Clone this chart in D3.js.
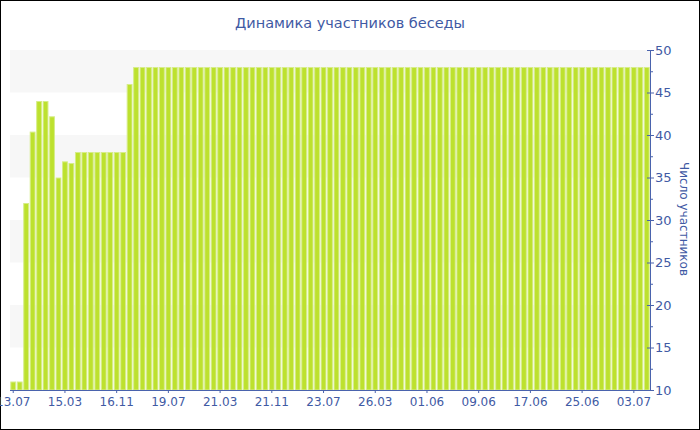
<!DOCTYPE html>
<html>
<head>
<meta charset="utf-8">
<script src="https://cdn.jsdelivr.net/npm/d3@7"></script>
<style>
  html, body { margin: 0; padding: 0; background: #fff; }
  svg { display: block; }
  text { font-family: "DejaVu Sans", Verdana, sans-serif; }
</style>
</head>
<body>
<script>
const title = "Динамика участников беседы";
const yTitle = "Число участников";
const values = [11, 11, 32, 40.4, 44, 44, 42.2, 35, 36.9, 36.7,
  38, 38, 38, 38, 38, 38, 38, 38, 46,
  48, 48, 48, 48, 48, 48, 48, 48, 48, 48,
  48, 48, 48, 48, 48, 48, 48, 48, 48, 48,
  48, 48, 48, 48, 48, 48, 48, 48, 48, 48,
  48, 48, 48, 48, 48, 48, 48, 48, 48, 48,
  48, 48, 48, 48, 48, 48, 48, 48, 48, 48,
  48, 48, 48, 48, 48, 48, 48, 48, 48, 48,
  48, 48, 48, 48, 48, 48, 48, 48, 48, 48,
  48, 48, 48, 48, 48, 48, 48, 48, 48, 48];
const tickLabels = ["13.07", "15.03", "16.11", "19.07", "21.03", "21.11", "23.07",
  "26.03", "01.06", "09.06", "17.06", "25.06", "03.07"];
const tickEvery = 8;
const yTicks = [10, 15, 20, 25, 30, 35, 40, 45, 50];
const bands = [[45, 50], [35, 40], [25, 30], [15, 20]];

const W = 700, H = 430;
const mLeft = 10, mRight = 650, mTop = 50, mBottom = 390;
const textColor = "#3f5aa4", lineColor = "#4a63ad";

const svg = d3.select("body").append("svg").attr("width", W).attr("height", H);
svg.append("rect").attr("x", 0.5).attr("y", 0.5).attr("width", W - 1).attr("height", H - 1)
  .attr("fill", "#fff").attr("stroke", "#000");

const idx = values.map((d, i) => i);
const x = d3.scaleBand().domain(idx).range([mLeft, mRight]).paddingInner(0.1).paddingOuter(0.05);
const y = d3.scaleLinear().domain([10, 50]).range([mBottom, mTop]);

svg.append("g").selectAll("rect").data(bands).join("rect")
  .attr("x", mLeft).attr("width", mRight - mLeft)
  .attr("y", d => y(d[1])).attr("height", d => y(d[0]) - y(d[1]))
  .attr("fill", "#f7f7f7");

svg.append("g").selectAll("rect").data(values).join("rect")
  .attr("x", (d, i) => x(i) + 0.5).attr("width", x.bandwidth() - 1)
  .attr("y", d => y(d) + 0.5).attr("height", d => y(10) - y(d) - 0.5)
  .attr("fill", "#bde12e").attr("stroke", "#d6ed88").attr("stroke-width", 1);

const xAxis = d3.axisBottom(x)
  .tickValues(tickLabels.map((t, k) => k * tickEvery))
  .tickFormat(i => tickLabels[i / tickEvery])
  .tickSize(3).tickPadding(4).tickSizeOuter(0);
const gx = svg.append("g").attr("transform", `translate(0,${mBottom})`).call(xAxis);
gx.select(".domain").attr("stroke", lineColor).attr("d", `M${mLeft},0.5H${mRight}`);
gx.selectAll(".tick line").attr("stroke", lineColor);
gx.selectAll("text").attr("fill", textColor).attr("font-size", 12);

const minor = d3.range(12.5, 50, 5);
svg.append("g").attr("transform", `translate(${mRight},0)`).selectAll("line").data(minor).join("line")
  .attr("x1", 0).attr("x2", 3).attr("y1", d => y(d) + 0.5).attr("y2", d => y(d) + 0.5)
  .attr("stroke", lineColor);

const yAxis = d3.axisRight(y).tickValues(yTicks).tickSize(4).tickPadding(1).tickSizeOuter(0);
const gy = svg.append("g").attr("transform", `translate(${mRight},0)`).call(yAxis);
gy.select(".domain").attr("stroke", lineColor);
gy.selectAll(".tick line").attr("stroke", lineColor).attr("x1", -3);
gy.selectAll("text").attr("fill", textColor).attr("font-size", 13);

svg.append("text").attr("x", W / 2).attr("y", 28).attr("text-anchor", "middle")
  .attr("fill", textColor).attr("font-size", 14.5).text(title);

svg.append("text").attr("transform", `translate(680,219) rotate(90)`)
  .attr("text-anchor", "middle").attr("fill", textColor).attr("font-size", 12).text(yTitle);
</script>
</body>
</html>
